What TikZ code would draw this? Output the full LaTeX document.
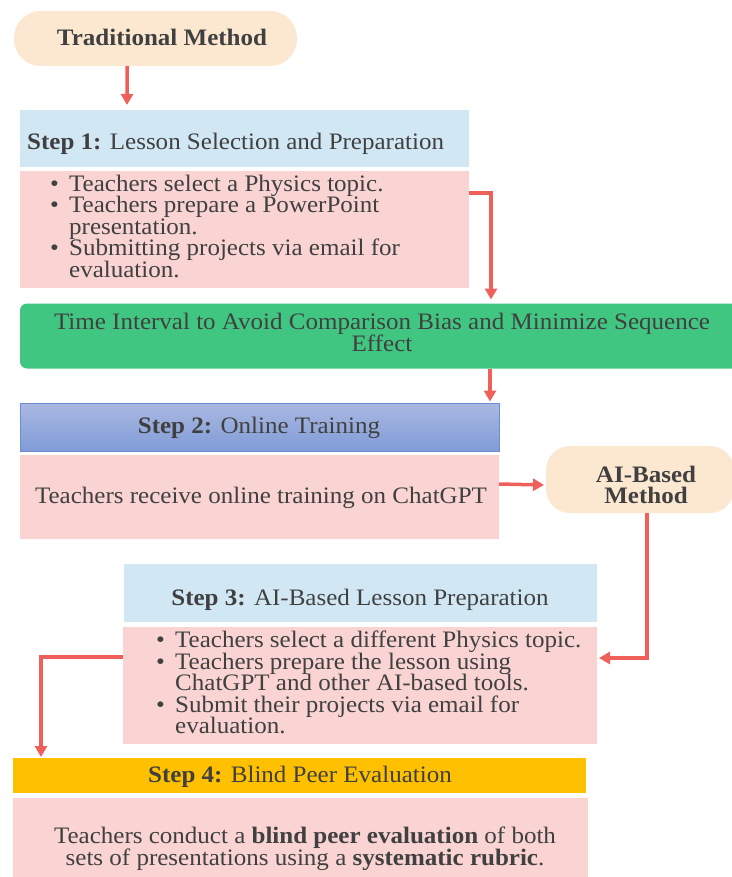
\documentclass[tikz,border=0pt]{standalone}
\usepackage{fontspec}
\setmainfont{Liberation Serif}[FakeStretch=1.06]
\usetikzlibrary{arrows.meta,calc}
\definecolor{txt}{HTML}{404040}
\definecolor{peach}{HTML}{FCE8D1}
\definecolor{pinkf}{HTML}{FAD3D3}
\definecolor{lblue}{HTML}{D1E7F4}
\definecolor{greenf}{HTML}{41C681}
\definecolor{orangef}{HTML}{FFC000}
\definecolor{arrred}{HTML}{F0605B}
\definecolor{btop}{HTML}{A9B8E1}
\definecolor{bbot}{HTML}{809BD7}
\definecolor{bdraw}{HTML}{6D8BD1}
\newcommand{\bul}{\makebox[19pt][l]{\textbullet}}
\newcommand{\tightlines}{\lineskiplimit=-100pt\lineskip=0pt}
\begin{document}
\begin{tikzpicture}[x=1pt,y=-1pt,
  every node/.style={text=txt, font=\fontsize{23.6}{21.5}\selectfont\tightlines},
  boxbase/.style={draw=none, inner sep=0pt, outer sep=0pt, rectangle},
  pinkbox/.style={boxbase, fill=pinkf},
  bluebox/.style={boxbase, fill=lblue},
  pill/.style={boxbase, fill=peach},
  txtnode/.style={inner sep=0pt, align=center},
  bullettext/.style={inner sep=0pt, align=left, anchor=west},
  arr/.style={draw=arrred, line width=3.5pt, -{Triangle[width=12pt,length=11pt]}}
]
\useasboundingbox (0,0) rectangle (731,877);
\fill[white] (0,0) rectangle (731,877);

% Traditional method
\node[pill, rounded corners=27pt, minimum width=283pt, minimum height=55pt] (trad) at (155.5,38.5) {};
\node[txtnode, font=\fontsize{23.6}{22}\selectfont\bfseries] (tradt) at (162,37) {Traditional Method};

% Step 1
\node[bluebox, minimum width=449pt, minimum height=57pt] (s1h) at (244.5,138.5) {};
\node[txtnode, anchor=west] (s1ht) at (27,144) {\textbf{Step 1:} Lesson Selection and Preparation};
\node[pinkbox, minimum width=449pt, minimum height=117pt] (s1b) at (244.5,229.5) {};
\node[bullettext] (s1bt) at (50,226) {%
\bul Teachers select a Physics topic.\\
\bul Teachers prepare a PowerPoint\\
\hspace*{19pt}presentation.\\
\bul Submitting projects via email for\\
\hspace*{19pt}evaluation.};

% Green interval
\node[boxbase, fill=greenf, rounded corners=7pt, minimum width=725pt, minimum height=65pt] (green) at (382.5,336) {};
\node[txtnode, font=\fontsize{23.6}{22}\selectfont\tightlines] (greent) at (382,332.5) {Time Interval to Avoid Comparison Bias and Minimize Sequence\\Effect};

% Step 2
\node[boxbase, top color=btop, bottom color=bbot, draw=bdraw, line width=0.8pt, minimum width=479pt, minimum height=48pt] (s2h) at (259.5,427.5) {};
\node[txtnode] (s2ht) at (259,428) {\textbf{Step 2:} Online Training};
\node[pinkbox, minimum width=479pt, minimum height=84pt] (s2b) at (259.5,497) {};
\node[txtnode] (s2bt) at (261,498) {Teachers receive online training on ChatGPT};

% AI-based method
\node[pill, rounded corners=24pt, minimum width=188pt, minimum height=67pt] (aib) at (640,479.5) {};
\node[txtnode, font=\fontsize{23.6}{21.5}\selectfont\bfseries\tightlines] (aibt) at (646,485) {AI-Based\\Method};

% Step 3
\node[bluebox, minimum width=473pt, minimum height=58pt] (s3h) at (360,593) {};
\node[txtnode] (s3ht) at (360,600) {\textbf{Step 3:} AI-Based Lesson Preparation};
\node[pinkbox, minimum width=474pt, minimum height=117pt] (s3b) at (360,685.5) {};
\node[bullettext] (s3bt) at (156,682.5) {%
\bul Teachers select a different Physics topic.\\
\bul Teachers prepare the lesson using\\
\hspace*{19pt}ChatGPT and other AI-based tools.\\
\bul Submit their projects via email for\\
\hspace*{19pt}evaluation.};

% Step 4
\node[boxbase, fill=orangef, minimum width=573pt, minimum height=35pt] (s4h) at (299.5,775.5) {};
\node[txtnode] (s4ht) at (300,777) {\textbf{Step 4:} Blind Peer Evaluation};
\node[pinkbox, minimum width=575pt, minimum height=82pt] (s4b) at (300.5,839) {};
\node[txtnode, font=\fontsize{23.6}{21.5}\selectfont\tightlines] (s4bt) at (305,848.5) {Teachers conduct a \textbf{blind peer evaluation} of both\\sets of presentations using a \textbf{systematic rubric}.};

% Arrows
\draw[arr] ($(trad.south west)!0.4!(trad.south east)$) -- ($(s1h.north west)+(107,-5)$);
\draw[arr] ($(s1b.north east)+(0,22)$) -| ($(green.north west)+(471,-4)$);
\draw[arr] ($(green.south west)+(470,0)$) -- ($(s2h.north west)+(470,-2)$);
\draw[arr] ($(s2b.north east)+(0,29)$) -- ($(aib.west)+(-2,5.5)$);
\draw[arr] ($(aib.south west)+(101,0)$) |- ($(s3b.north east)+(2,31)$);
\draw[arr] ($(s3b.north west)+(0,30)$) -| ($(s4h.north west)+(28,-1)$);
\end{tikzpicture}
\end{document}
